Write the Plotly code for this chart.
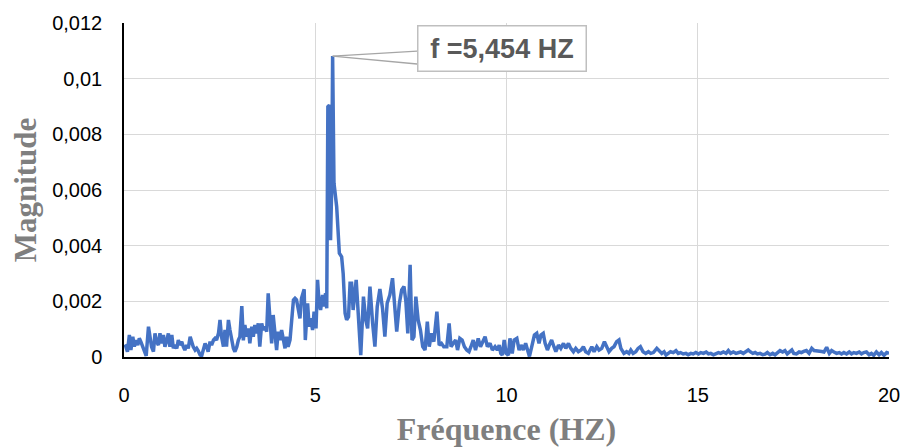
import plotly.graph_objects as go

# Frequency (Hz)
freq = [
    0.02, 0.05, 0.09, 0.14, 0.18, 0.23, 0.27, 0.31, 0.36, 0.40, 0.44, 0.49, 0.53, 0.58, 0.64, 0.68, 0.72, 0.77,
    0.81, 0.85, 0.90, 0.94, 0.98, 1.03, 1.07, 1.12, 1.16, 1.20, 1.25, 1.29, 1.33, 1.38, 1.42, 1.46, 1.51, 1.55,
    1.59, 1.64, 1.68, 1.73, 1.77, 1.81, 1.86, 1.90, 1.94, 1.99, 2.03, 2.07, 2.12, 2.16, 2.20, 2.25, 2.29, 2.34,
    2.38, 2.42, 2.47, 2.51, 2.55, 2.60, 2.64, 2.68, 2.73, 2.77, 2.81, 2.86, 2.90, 2.95, 2.99, 3.03, 3.08, 3.12,
    3.16, 3.21, 3.25, 3.29, 3.34, 3.38, 3.42, 3.47, 3.51, 3.55, 3.60, 3.64, 3.69, 3.73, 3.77, 3.82, 3.86, 3.90,
    3.95, 3.99, 4.03, 4.08, 4.12, 4.16, 4.21, 4.25, 4.29, 4.34, 4.38, 4.43, 4.47, 4.51, 4.56, 4.60, 4.64, 4.71,
    4.74, 4.80, 4.84, 4.88, 4.93, 4.97, 5.02, 5.06, 5.10, 5.14, 5.19, 5.23, 5.27, 5.30,
    5.33, 5.37, 5.40, 5.43, 5.454, 5.49, 5.56, 5.63, 5.69, 5.73, 5.78, 5.82, 5.87, 5.91, 5.95, 5.99, 6.07, 6.13,
    6.19, 6.26, 6.32, 6.37, 6.43,
    6.50, 6.56, 6.62, 6.69, 6.76, 6.82, 6.88, 6.95, 7.02, 7.08, 7.13, 7.20, 7.26, 7.32, 7.37, 7.42, 7.48, 7.53,
    7.58, 7.63, 7.69, 7.75, 7.81, 7.87, 7.93, 7.98, 8.04, 8.10, 8.18, 8.24, 8.30, 8.36, 8.44, 8.50, 8.55, 8.61,
    8.67, 8.72, 8.78, 8.84, 8.90, 8.96, 9.02, 9.07, 9.13, 9.19, 9.26, 9.32, 9.39, 9.44, 9.50, 9.57, 9.63, 9.70,
    9.76,
    9.81, 9.85, 9.89, 9.94, 9.99, 10.05, 10.09, 10.15, 10.20, 10.27, 10.33, 10.38, 10.44, 10.50, 10.55, 10.60,
    10.66, 10.73, 10.79, 10.85, 10.90, 10.96, 11.01, 11.07, 11.12, 11.18, 11.24, 11.29, 11.36, 11.42, 11.49,
    11.55, 11.62, 11.68, 11.75, 11.81, 11.88, 11.95, 12.01, 12.07, 12.14, 12.23, 12.29, 12.36, 12.42, 12.49,
    12.56, 12.62, 12.68, 12.75, 12.81, 12.88, 12.94, 12.99, 13.04,
    13.07, 13.14, 13.20, 13.25, 13.31, 13.38, 13.44, 13.50, 13.57, 13.64, 13.71, 13.77, 13.84, 13.93, 14.00,
    14.06, 14.12, 14.17, 14.23, 14.29, 14.36, 14.43, 14.49, 14.55, 14.62, 14.69, 14.75, 14.82, 14.88, 14.95,
    15.02, 15.08, 15.15, 15.22, 15.28, 15.34, 15.41, 15.48, 15.54, 15.60, 15.67, 15.74, 15.80, 15.86, 15.93,
    16.00, 16.06, 16.12, 16.19, 16.26, 16.32,
    16.37, 16.44, 16.50, 16.56, 16.63, 16.70, 16.76, 16.82, 16.89, 16.96, 17.02, 17.08, 17.15, 17.22, 17.28,
    17.34, 17.41, 17.46, 17.51, 17.58, 17.65, 17.71, 17.77, 17.84, 17.91, 17.98, 18.04, 18.11, 18.17, 18.24,
    18.30, 18.37, 18.44, 18.50, 18.56, 18.63, 18.70, 18.76, 18.82, 18.89, 18.96, 19.02, 19.08, 19.15, 19.22,
    19.28, 19.34, 19.41, 19.48, 19.54, 19.60, 19.67, 19.74, 19.80, 19.87, 19.94, 20.00,
]

# Magnitude
magnitude = [
    0.00045, 0.00037, 0.00019, 0.00079, 0.00025, 0.00073, 0.00037, 0.00061, 0.00043, 0.00067, 0.00055, 0.00037,
    0.00019, 0.00004, 0.00109, 0.00067, 0.00037, 0.00019, 0.00085, 0.00055, 0.00043, 0.00085, 0.00049, 0.00079,
    0.00037, 0.00061, 0.00085, 0.00037, 0.00079, 0.00031, 0.00043, 0.00031, 0.00061, 0.00043, 0.00055, 0.00037,
    0.00025, 0.00043, 0.00031, 0.00073, 0.00049, 0.00037, 0.00025, 0.00031, 0.00022, 0.00007, 0.00004, 0.00031,
    0.00049, 0.00037, 0.00019, 0.00055, 0.00043, 0.00061, 0.00067, 0.00061, 0.00085, 0.00133, 0.00073, 0.00037,
    0.00097, 0.00037, 0.00133, 0.00097, 0.00061, 0.00031, 0.00019, 0.00037, 0.00061, 0.00073, 0.00183, 0.00060,
    0.00115, 0.00073, 0.00103, 0.00049, 0.00109, 0.00073, 0.00115, 0.00085, 0.00121, 0.00037, 0.00121, 0.00097,
    0.00109, 0.00091, 0.00229, 0.00109, 0.00049, 0.00151, 0.00073, 0.00025, 0.00091, 0.00061, 0.00097, 0.00067,
    0.00031, 0.00073, 0.00037, 0.00061, 0.00127, 0.00205, 0.00211, 0.00205, 0.00169, 0.00139, 0.00211, 0.00243,
    0.00061, 0.00193, 0.00109, 0.00139, 0.00097, 0.00163, 0.00103, 0.00277, 0.00193, 0.00169, 0.00223, 0.00181,
    0.00229, 0.00175,
    0.00899, 0.00905, 0.00420, 0.00612, 0.01081, 0.00624, 0.00540, 0.00373, 0.00360, 0.00300, 0.00157, 0.00133,
    0.00145, 0.00265, 0.00265, 0.00169, 0.00277, 0.00157, 0.00007, 0.00217, 0.00133, 0.00103, 0.00253,
    0.00121, 0.00037, 0.00181, 0.00244, 0.00173, 0.00073, 0.00193, 0.00223, 0.00283, 0.00175, 0.00091, 0.00193,
    0.00241, 0.00253, 0.00199, 0.00085, 0.00331, 0.00061, 0.00073, 0.00217, 0.00133, 0.00097, 0.00037, 0.00025,
    0.00127, 0.00037, 0.00085, 0.00055, 0.00163, 0.00043, 0.00049, 0.00037, 0.00037, 0.00121, 0.00037, 0.00049,
    0.00061, 0.00025, 0.00067, 0.00061, 0.00037, 0.00025, 0.00019, 0.00037, 0.00061, 0.00025, 0.00067, 0.00037,
    0.00061, 0.00073, 0.00037, 0.00049, 0.00025, 0.00037, 0.00025,
    0.00043, 0.00013, 0.00007, 0.00061, 0.00013, 0.00007, 0.00067, 0.00013, 0.00061, 0.00067, 0.00025, 0.00043,
    0.00025, 0.00049, 0.00025, 0.00002, 0.00037, 0.00079, 0.00085, 0.00049, 0.00079, 0.00085, 0.00049, 0.00025,
    0.00043, 0.00061, 0.00037, 0.00019, 0.00043, 0.00031, 0.00049, 0.00031, 0.00049, 0.00031, 0.00019, 0.00031,
    0.00019, 0.00025, 0.00037, 0.00019, 0.00013, 0.00037, 0.00019, 0.00037, 0.00025, 0.00031, 0.00055, 0.00037,
    0.00019, 0.00031, 0.00037, 0.00055, 0.00061, 0.00031, 0.00015,
    0.00013, 0.00019, 0.00013, 0.00025, 0.00013, 0.00019, 0.00031, 0.00037, 0.00019, 0.00013, 0.00019, 0.00013,
    0.00016, 0.00031, 0.00019, 0.00013, 0.00019, 0.00007, 0.00013, 0.00019, 0.00016, 0.00023, 0.00013, 0.00016,
    0.00011, 0.00013, 0.00008, 0.00013, 0.00011, 0.00016, 0.00011, 0.00016, 0.00013, 0.00018, 0.00011, 0.00013,
    0.00008, 0.00013, 0.00016, 0.00013, 0.00018, 0.00013, 0.00023, 0.00013, 0.00018, 0.00013, 0.00016, 0.00018,
    0.00013, 0.00019, 0.00025,
    0.00019, 0.00013, 0.00016, 0.00011, 0.00013, 0.00008, 0.00010, 0.00016, 0.00008, 0.00013, 0.00008, 0.00016,
    0.00023, 0.00018, 0.00023, 0.00011, 0.00019, 0.00025, 0.00013, 0.00011, 0.00018, 0.00016, 0.00020, 0.00023,
    0.00013, 0.00031, 0.00023, 0.00023, 0.00023, 0.00020, 0.00018, 0.00035, 0.00013, 0.00023, 0.00018, 0.00013,
    0.00016, 0.00011, 0.00016, 0.00011, 0.00018, 0.00011, 0.00016, 0.00013, 0.00018, 0.00011, 0.00016, 0.00018,
    0.00008, 0.00013, 0.00006, 0.00018, 0.00008, 0.00016, 0.00006, 0.00016, 0.00013,
]

x_ticks = [0, 5, 10, 15, 20]
y_ticks = [0, 0.002, 0.004, 0.006, 0.008, 0.010, 0.012]
y_tick_labels = ["0", "0,002", "0,004", "0,006", "0,008", "0,01", "0,012"]

peak_freq = 5.454
peak_mag = 0.01081
peak_label = "f =5,454 HZ"

fig = go.Figure()
fig.add_trace(go.Scatter(
    x=freq, y=magnitude, mode="lines",
    line=dict(color="#4472C4", width=3.5),
    showlegend=False, hoverinfo="x+y",
))

# callout wedge lines
for dy in (-5, 8):
    fig.add_annotation(
        x=peak_freq, y=peak_mag, xref="x", yref="y", text="",
        showarrow=True, arrowhead=0, arrowwidth=1.3, arrowcolor="#A6A6A6",
        ax=86, ay=dy, axref="pixel", ayref="pixel",
    )
# callout box
fig.add_annotation(
    x=peak_freq, y=peak_mag, xref="x", yref="y",
    text="<b>" + peak_label + "</b>",
    showarrow=True, arrowhead=0, arrowwidth=0.1, arrowcolor="rgba(0,0,0,0)",
    ax=169, ay=-8,
    font=dict(family="Liberation Sans, Arial, sans-serif", size=27, color="#595959"),
    bgcolor="white", bordercolor="#BFBFBF", borderwidth=1.5,
    width=165, height=42, borderpad=1,
)

fig.update_layout(
    width=904, height=447,
    margin=dict(l=124, r=15, t=23, b=90, autoexpand=False),
    paper_bgcolor="white", plot_bgcolor="white",
    separators=", ",
    font=dict(family="Liberation Sans, Arial, sans-serif", size=20, color="#000000"),
    xaxis=dict(
        range=[0, 20], tickvals=x_ticks, automargin=False,
        showgrid=True, gridcolor="#D9D9D9", gridwidth=1.3,
        showline=True, linecolor="#000000", linewidth=1.5,
        zeroline=False, ticks="", ticklabelstandoff=19,
        title=dict(text="<b>Fréquence (HZ)</b>", standoff=13,
                   font=dict(family="Liberation Serif, Times New Roman, serif", size=32, color="#7F7F7F")),
    ),
    yaxis=dict(
        range=[0, 0.012], tickvals=y_ticks, ticktext=y_tick_labels, automargin=False,
        showgrid=True, gridcolor="#D9D9D9", gridwidth=1.3,
        showline=True, linecolor="#000000", linewidth=1.5,
        zeroline=False, ticks="", ticklabelstandoff=16,
        title=dict(text="<b>Magnitude</b>", standoff=6,
                   font=dict(family="Liberation Serif, Times New Roman, serif", size=31, color="#7F7F7F")),
    ),
)

fig.write_html(
    "out.html",
    config={"displayModeBar": False},
    post_script="document.body.style.margin='0';document.body.style.overflow='hidden';",
)
